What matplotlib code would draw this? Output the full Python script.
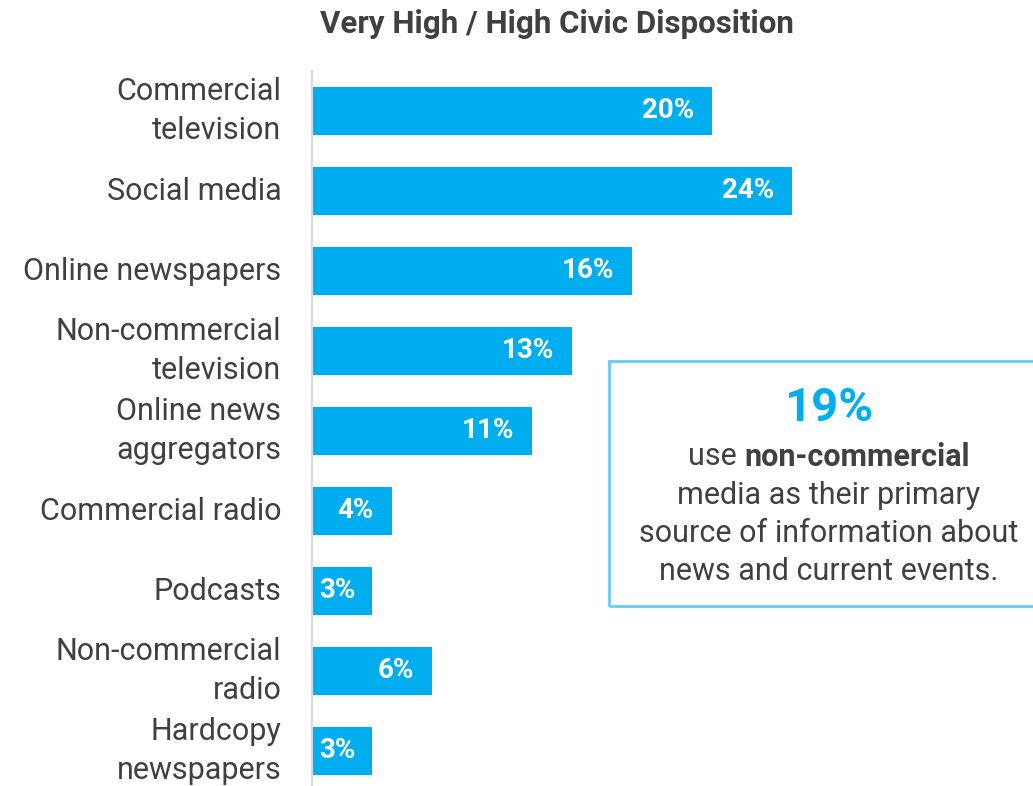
import matplotlib
matplotlib.use("Agg")
import matplotlib.pyplot as plt
from matplotlib.patches import Rectangle

categories = [
    "Commercial\ntelevision",
    "Social media",
    "Online newspapers",
    "Non-commercial\ntelevision",
    "Online news\naggregators",
    "Commercial radio",
    "Podcasts",
    "Non-commercial\nradio",
    "Hardcopy\nnewspapers",
]
shares = [20, 24, 16, 13, 11, 4, 3, 6, 3]

title = "Very High / High Civic Disposition"
callout_value = "19%"
callout_lines = ["media as their primary", "source of information about", "news and current events."]

BLUE = "#00AEEF"
TEXT = "#404040"
W, H = 1033, 786

plt.rcParams["font.family"] = ["Roboto", "DejaVu Sans"]

fig = plt.figure(figsize=(W / 100, H / 100), dpi=100)
renderer = fig.canvas.get_renderer()
# axes span from the bar baseline to the right edge, 80 px per category row
ax = fig.add_axes([312 / W, -5 / H, (W - 312) / W, 720 / H])

y = list(range(len(categories)))
ax.barh(y, shares, height=0.6, color=BLUE)
ax.set_ylim(len(categories) - 0.5, -0.5)
ax.set_xlim(0, (W - 312) / 20)

# value labels sit inside the bar end; short bars get them near the baseline
px_per_unit = 20
for yi, v in zip(y, shares):
    t = ax.annotate(f"{v}%", xy=(v, yi), xytext=(-13, 0), textcoords="offset points",
                    ha="right", va="center", color="white", fontsize=20, fontweight="bold")
    tw = t.get_window_extent(renderer).width
    if v * px_per_unit - 18 - tw < 7:
        t.xy = (0, yi)
        t.set_ha("left")
        t.set_position((5, 0))

ax.set_yticks(y)
ax.set_yticklabels(categories, fontsize=22, color=TEXT, linespacing=1.42, va="center")
ax.tick_params(axis="y", length=0, pad=22)
ax.set_xticks([])
for side in ("top", "right", "bottom"):
    ax.spines[side].set_visible(False)
ax.spines["left"].set_color("#D9D9D9")
ax.spines["left"].set_linewidth(1.5)

fig.text(557 / W, 1 - 24 / H, title, ha="center", va="center", fontsize=22.5,
         fontweight="bold", color=TEXT)

# callout box on the right
fig.patches.append(Rectangle((609 / W, 1 - 606 / H), 440 / W, 245 / H, transform=fig.transFigure,
                             fill=False, edgecolor="#66CCF5", linewidth=2, clip_on=False))
cx = 829 / W
fig.text(cx, 1 - 408 / H, callout_value, ha="center", va="center", fontsize=34,
         fontweight="bold", color=BLUE)

t1 = fig.text(0, 1 - 457 / H, "use ", ha="left", va="center", fontsize=22, color=TEXT)
t2 = fig.text(0, 1 - 457 / H, "non-commercial", ha="left", va="center", fontsize=22,
              fontweight="bold", color=TEXT)
w1 = t1.get_window_extent(renderer).width / W
w2 = t2.get_window_extent(renderer).width / W
start = cx - (w1 + w2) / 2
t1.set_x(start)
t2.set_x(start + w1)

for i, line in enumerate(callout_lines):
    fig.text(cx, 1 - (495 + 38 * i) / H, line, ha="center", va="center", fontsize=22, color=TEXT)

fig.savefig("out.png", dpi=100)
